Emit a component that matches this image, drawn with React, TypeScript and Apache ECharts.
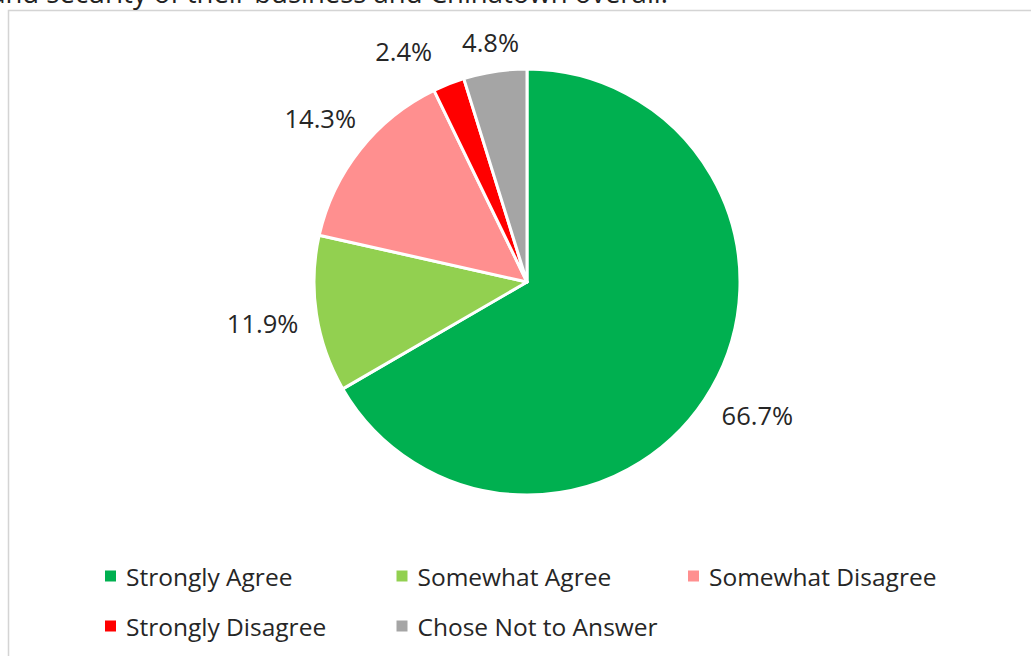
import React, { useEffect, useRef } from "react";
import * as echarts from "echarts";

const categories = [
  "Strongly Agree",
  "Somewhat Agree",
  "Somewhat Disagree",
  "Strongly Disagree",
  "Chose Not to Answer",
];
const percents = [66.7, 11.9, 14.3, 2.4, 4.8];
const colors = ["#00B050", "#92D050", "#FF8F8F", "#FF0000", "#A5A5A5"];
const captionTail = "and security of their business and Chinatown overall.";

const CX = 527;
const CY = 282;
const R = 213;
const LABEL_GAP = 18;
const LABEL_SIZE = 25.5;
const LABEL_MARGIN = 30;
const FONT = "'Open Sans', 'Noto Sans', sans-serif";

function measure(text: string, size: number) {
  const ctx = document.createElement("canvas").getContext("2d");
  if (!ctx) return text.length * size * 0.57;
  ctx.font = `${size}px ${FONT}`;
  return ctx.measureText(text).width;
}

export default function App() {
  const ref = useRef<HTMLDivElement>(null);
  useEffect(() => {
    if (!ref.current) return;
    const chart = echarts.init(ref.current, undefined, { renderer: "svg" });
    const total = percents.reduce((a, b) => a + b, 0);
    const texts = percents.map((p) => `${p.toFixed(1)}%`);

    // Best-fit label placement: along each slice's mid angle, just outside the pie,
    // then push a label leftwards if it collides with the following one.
    let acc = 0;
    const pos = percents.map((v, i) => {
      const mid = ((acc + v / 2) / total) * Math.PI * 2;
      acc += v;
      const dx = Math.sin(mid);
      const dy = -Math.cos(mid);
      const w = measure(texts[i], LABEL_SIZE);
      const h = LABEL_SIZE * 0.6;
      const dist = R + LABEL_GAP + (Math.abs(dx) * w) / 2 + (Math.abs(dy) * h) / 2;
      return { x: CX + dx * dist, y: CY + dy * dist, w, h };
    });
    for (let i = pos.length - 2; i >= 0; i--) {
      const a = pos[i];
      const b = pos[i + 1];
      const overlapX = a.x + a.w / 2 + LABEL_MARGIN - (b.x - b.w / 2);
      const overlapY = Math.abs(a.y - b.y) < (a.h + b.h) / 2;
      if (a.x < b.x && overlapX > 0 && overlapY) a.x -= overlapX;
    }

    chart.setOption({
      animation: false,
      backgroundColor: "#ffffff",
      graphic: [
        {
          type: "rect",
          shape: { x: 8.5, y: 10.5, width: 1100, height: 700 },
          style: { fill: "none", stroke: "#d4d4d4", lineWidth: 1.5 },
          silent: true,
        },
        {
          type: "text",
          x: 668,
          y: -8,
          style: {
            text: captionTail,
            font: `27.5px ${FONT}`,
            fill: "#222222",
            align: "right",
            verticalAlign: "middle",
          },
          silent: true,
        },
      ],
      legend: {
        left: 98,
        top: 557,
        orient: "horizontal",
        itemWidth: 13,
        itemHeight: 13,
        itemGap: 22,
        icon: "rect",
        textStyle: {
          fontFamily: FONT,
          fontSize: 24.5,
          color: "#262626",
          width: 246.5,
          lineHeight: 28,
          padding: [0, 0, 0, 4],
        },
        data: categories,
      },
      series: [
        {
          type: "pie",
          center: [CX, CY],
          radius: R,
          startAngle: 90,
          clockwise: true,
          data: categories.map((name, i) => ({
            name,
            value: percents[i],
            itemStyle: { color: colors[i] },
          })),
          itemStyle: { borderColor: "#ffffff", borderWidth: 3 },
          label: {
            show: true,
            position: "outside",
            formatter: (p: any) => texts[p.dataIndex],
            fontFamily: FONT,
            fontSize: LABEL_SIZE,
            color: "#262626",
          },
          labelLine: { show: false },
          labelLayout: (params: any) => {
            const p = pos[params.dataIndex];
            return { x: p.x, y: p.y, align: "center", verticalAlign: "middle" };
          },
          emphasis: { disabled: true },
        },
      ],
    });
    return () => chart.dispose();
  }, []);
  return (
    <div
      ref={ref}
      style={{ position: "fixed", left: 0, top: 0, width: 1031, height: 656 }}
    />
  );
}
